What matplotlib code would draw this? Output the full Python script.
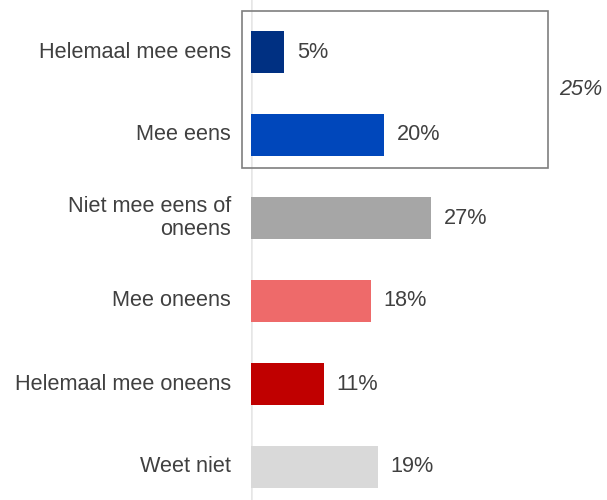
import matplotlib
matplotlib.use("Agg")
import matplotlib.pyplot as plt
from matplotlib.patches import Rectangle

categories = ["Helemaal mee eens", "Mee eens", "Niet mee eens of\noneens",
              "Mee oneens", "Helemaal mee oneens", "Weet niet"]
values = [5, 20, 27, 18, 11, 19]
colors = ["#003082", "#0047BB", "#A6A6A6", "#EE6A6A", "#C00000", "#D9D9D9"]
group_label = "25%"

plt.rcParams['font.family'] = ['Liberation Sans', 'DejaVu Sans']
W, H = 607, 500
fig = plt.figure(figsize=(W / 100, H / 100), dpi=100)
left_px = 251
ax = fig.add_axes([left_px / W, 0, (W - left_px) / W, 1])
px_per_unit = 6.667
ax.set_xlim(0, (W - left_px) / px_per_unit)
spacing = 83.0
top_center = 52.0
ax.set_ylim((H - top_center) / spacing, -top_center / spacing)

fs = 15.6
ypos = list(range(len(categories)))
ax.barh(ypos, values, height=0.5, color=colors, zorder=3)
for y, v in zip(ypos, values):
    ax.text(v + 12.5 / px_per_unit, y, f"{v}%", va="center", ha="left",
            fontsize=fs, color="#404040")
for y, c in zip(ypos, categories):
    ax.text(-20 / px_per_unit, y, c, va="center", ha="right",
            fontsize=fs, color="#404040", linespacing=1.1)

ax.axvline(0, color="#E6E6E6", lw=1.8, zorder=2)
x0 = -9 / px_per_unit
x1 = (548 - left_px) / px_per_unit
y0 = (10.7 - top_center) / spacing
y1 = (168 - top_center) / spacing
ax.add_patch(Rectangle((x0, y0), x1 - x0, y1 - y0, fill=False,
                       edgecolor="#7F7F7F", lw=1.2, clip_on=False, zorder=4))
ax.text((581 - left_px) / px_per_unit, (y0 + y1) / 2, group_label,
        ha="center", va="center", fontsize=fs, style="italic", color="#404040")

ax.axis("off")
fig.savefig("out.png", dpi=100)
